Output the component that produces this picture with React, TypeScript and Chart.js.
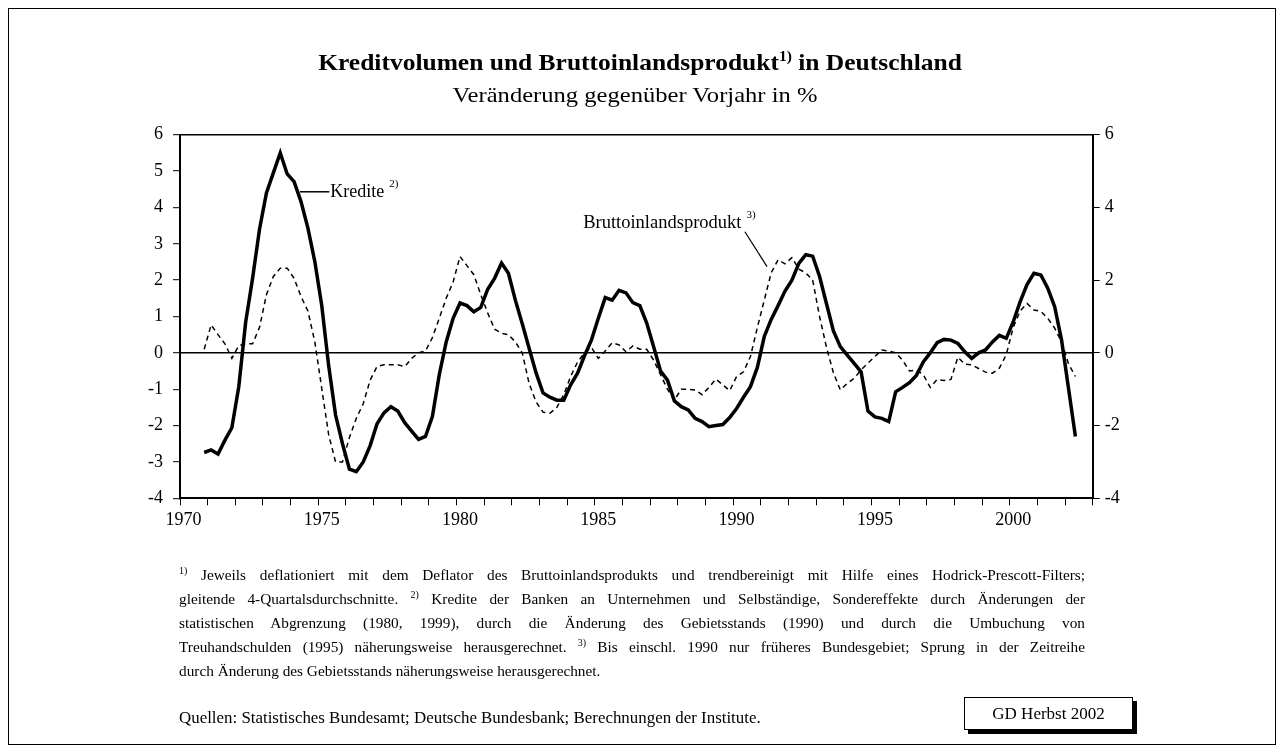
import React, { useEffect, useRef } from "react";
import { Chart, registerables } from "chart.js";

Chart.register(...registerables);

// ---------- data ----------
const FIRST_YEAR = 1970;
const LAST_YEAR = 2002; // axis runs to end of 2002
const FIRST_QUARTER_INDEX = 3; // data starts 1970 Q4

const yearTickLabels = ["1970", "1975", "1980", "1985", "1990", "1995", "2000"];
const rightAxisTicks = [-4, -2, 0, 2, 4, 6];

// Kredite (solid, thick), quarterly, 1970 Q4 .. 2002 Q2
const kredite = [
  -2.74, -2.67, -2.78, -2.4, -2.06, -0.93, 0.85, 2.05, 3.4, 4.4,
  4.95, 5.5, 4.92, 4.71, 4.16, 3.43, 2.51, 1.3, -0.35, -1.71,
  -2.5, -3.2, -3.27, -3.0, -2.55, -1.95, -1.65, -1.48, -1.6, -1.92,
  -2.15, -2.38, -2.3, -1.75, -0.6, 0.3, 0.95, 1.37, 1.3, 1.13,
  1.25, 1.75, 2.05, 2.47, 2.19, 1.45, 0.8, 0.12, -0.55, -1.1,
  -1.22, -1.3, -1.3, -0.88, -0.56, -0.08, 0.35, 0.95, 1.52, 1.45,
  1.72, 1.65, 1.38, 1.3, 0.82, 0.17, -0.5, -0.75, -1.32, -1.48,
  -1.57, -1.8, -1.89, -2.03, -2.0, -1.97, -1.78, -1.53, -1.22, -0.93,
  -0.4, 0.45, 0.92, 1.3, 1.7, 2.0, 2.46, 2.7, 2.66, 2.1,
  1.35, 0.6, 0.17, -0.06, -0.29, -0.52, -1.6, -1.76, -1.8, -1.89,
  -1.07, -0.95, -0.82, -0.62, -0.25, 0.0, 0.28, 0.37, 0.35, 0.26,
  0.03, -0.15, 0.0, 0.08, 0.3, 0.48, 0.4, 0.85, 1.4, 1.88,
  2.19, 2.14, 1.78, 1.27, 0.35, -0.97, -2.3,
];

// Bruttoinlandsprodukt (dashed), quarterly, 1970 Q4 .. 2002 Q2
const bip = [
  0.1, 0.77, 0.5, 0.25, -0.15, 0.2, 0.25, 0.25, 0.7, 1.6,
  2.1, 2.33, 2.33, 2.05, 1.55, 1.15, 0.3, -0.98, -2.25, -3.0,
  -3.0, -2.33, -1.8, -1.4, -0.75, -0.37, -0.33, -0.33, -0.33, -0.38,
  -0.15, 0.0, 0.05, 0.42, 0.95, 1.5, 1.95, 2.65, 2.4, 2.15,
  1.6, 1.1, 0.65, 0.54, 0.5, 0.3, 0.0, -0.85, -1.35, -1.63,
  -1.66, -1.5, -1.15, -0.65, -0.25, 0.0, 0.15, -0.15, 0.05, 0.28,
  0.22, 0.03, 0.19, 0.1, 0.1, -0.2, -0.6, -1.0, -1.3, -1.0,
  -1.0, -1.02, -1.15, -0.95, -0.72, -0.88, -1.04, -0.65, -0.52, -0.1,
  0.7, 1.45, 2.2, 2.56, 2.45, 2.62, 2.3, 2.2, 2.0, 1.0,
  0.15, -0.55, -1.02, -0.84, -0.7, -0.47, -0.28, -0.1, 0.08, 0.05,
  0.0, -0.2, -0.5, -0.47, -0.6, -0.95, -0.73, -0.76, -0.73, -0.12,
  -0.31, -0.33, -0.43, -0.53, -0.56, -0.42, -0.05, 0.7, 1.15, 1.36,
  1.18, 1.14, 0.95, 0.68, 0.3, -0.3, -0.65,
];

// category labels (quarters)
const quarters: string[] = kredite.map((_, k) => {
  const n = FIRST_QUARTER_INDEX + k;
  return `${FIRST_YEAR + Math.floor(n / 4)} Q${(n % 4) + 1}`;
});

// annotation anchors in data space (quarter index, value)
const kreditLabel = { text: "Kredite", sup: "2)", from: [17.35, 4.43], to: [21.6, 4.43] };
const bipLabel = { text: "Bruttoinlandsprodukt", sup: "3)", textEnd: [81.2, 3.57], from: [81.7, 3.33], to: [84.9, 2.37] };

const FONT = "'Liberation Serif', 'Times New Roman', Times, serif";
const TOTAL_Q = (LAST_YEAR - FIRST_YEAR + 1) * 4;

const quarterToX = (label: string) => {
  const [y, q] = label.split(" Q");
  return (Number(y) - FIRST_YEAR) * 4 + Number(q) - 1 + 0.5;
};

const annotationPlugin = {
  id: "annots",
  afterDatasetsDraw(chart: any) {
    const { ctx } = chart;
    const x = chart.scales.x;
    const y = chart.scales.y;
    ctx.save();
    ctx.strokeStyle = "#000";
    ctx.fillStyle = "#000";
    ctx.lineWidth = 1.5;
    // Kredite
    const k0x = x.getPixelForValue(kreditLabel.from[0]);
    const k0y = y.getPixelForValue(kreditLabel.from[1]);
    const k1x = x.getPixelForValue(kreditLabel.to[0]);
    ctx.beginPath();
    ctx.moveTo(k0x, k0y);
    ctx.lineTo(k1x, k0y);
    ctx.stroke();
    ctx.font = `18px ${FONT}`;
    ctx.textBaseline = "middle";
    ctx.textAlign = "left";
    ctx.fillText(kreditLabel.text, k1x + 1, k0y);
    const kw = ctx.measureText(kreditLabel.text).width;
    ctx.font = `11px ${FONT}`;
    ctx.fillText(kreditLabel.sup, k1x + kw + 6, k0y - 8);
    // BIP
    ctx.font = `18.5px ${FONT}`;
    ctx.textAlign = "right";
    const bx = x.getPixelForValue(bipLabel.textEnd[0]);
    const by = y.getPixelForValue(bipLabel.textEnd[1]);
    ctx.fillText(bipLabel.text, bx, by);
    ctx.font = `11px ${FONT}`;
    ctx.textAlign = "left";
    ctx.fillText(bipLabel.sup, bx + 5, by - 8);
    ctx.beginPath();
    ctx.moveTo(x.getPixelForValue(bipLabel.from[0]), y.getPixelForValue(bipLabel.from[1]));
    ctx.lineTo(x.getPixelForValue(bipLabel.to[0]), y.getPixelForValue(bipLabel.to[1]));
    ctx.lineWidth = 1.2;
    ctx.stroke();
    ctx.restore();
  },
};

function ChartCanvas() {
  const ref = useRef<HTMLCanvasElement>(null);
  useEffect(() => {
    if (!ref.current) return;
    const tickFont = { family: FONT, size: 18 };
    const chart = new Chart(ref.current, {
      type: "line",
      data: {
        datasets: [
          {
            label: "Kredite",
            data: quarters.map((q, k) => ({ x: quarterToX(q), y: kredite[k] })),
            borderColor: "#000",
            borderWidth: 3.5,
            pointRadius: 0,
            tension: 0,
            fill: false,
          },
          {
            label: "Bruttoinlandsprodukt",
            data: quarters.map((q, k) => ({ x: quarterToX(q), y: bip[k] })),
            borderColor: "#000",
            borderWidth: 1.5,
            borderDash: [5, 4],
            pointRadius: 0,
            tension: 0,
            fill: false,
          },
        ],
      },
      options: {
        animation: false,
        responsive: false,
        maintainAspectRatio: false,
        layout: { padding: { left: 132, right: 143.3, top: 126.7, bottom: 206.7 } },
        plugins: { legend: { display: false }, tooltip: { enabled: false }, title: { display: false } },
        scales: {
          x: {
            type: "linear",
            min: 0,
            max: TOTAL_Q,
            afterBuildTicks: (s: any) => {
              const t = [];
              for (let v = 0; v <= TOTAL_Q; v += 4) t.push({ value: v });
              s.ticks = t;
            },
            afterFit: (s: any) => {
              s.height = 40;
            },
            ticks: {
              autoSkip: false,
              maxRotation: 0,
              minRotation: 0,
              labelOffset: 3.46,
              padding: 4,
              color: "#000",
              font: tickFont,
              callback: (v: any) => {
                const yr = String(FIRST_YEAR + Number(v) / 4);
                return yearTickLabels.includes(yr) ? yr : "";
              },
            },
            grid: { drawOnChartArea: false, drawTicks: true, tickLength: 7, tickColor: "#000", tickWidth: 1 },
            border: { display: true, color: "#000", width: 2 },
          },
          y: {
            position: "left",
            min: -4,
            max: 6,
            afterFit: (s: any) => {
              s.width = 40;
            },
            ticks: { stepSize: 1, color: "#000", font: tickFont, padding: 10 },
            grid: {
              drawOnChartArea: true,
              drawTicks: true,
              tickLength: 7,
              tickColor: "#000",
              tickWidth: 1,
              color: (c: any) => (c.tick && (c.tick.value === 0 || c.tick.value === 6) ? "#000" : "rgba(0,0,0,0)"),
              lineWidth: 1.4,
            },
            border: { display: true, color: "#000", width: 2 },
          },
          y2: {
            position: "right",
            min: -4,
            max: 6,
            afterBuildTicks: (s: any) => {
              s.ticks = rightAxisTicks.map((v) => ({ value: v }));
            },
            afterFit: (s: any) => {
              s.width = 40;
            },
            ticks: { color: "#000", font: tickFont, padding: 5 },
            grid: { drawOnChartArea: false, drawTicks: true, tickLength: 7, tickColor: "#000", tickWidth: 1 },
            border: { display: true, color: "#000", width: 2 },
          },
        },
      },
      plugins: [annotationPlugin],
    } as any);
    return () => chart.destroy();
  }, []);
  return (
    <canvas
      ref={ref}
      width={1268}
      height={737}
      style={{ position: "absolute", left: 0, top: 0, width: 1268, height: 737 }}
    />
  );
}

const noteLine: React.CSSProperties = {
  textAlign: "justify",
  textAlignLast: "justify" as any,
  whiteSpace: "nowrap",
  height: 24,
  lineHeight: "24px",
};
const sup: React.CSSProperties = { fontSize: 10, verticalAlign: "6px", lineHeight: 0 };

export default function App() {
  return (
    <div
      style={{
        position: "relative",
        width: 1268,
        height: 737,
        fontFamily: FONT,
        color: "#000",
        background: "#fff",
      }}
    >
      <div
        style={{
          position: "absolute",
          left: 0,
          top: 0,
          width: 1268,
          height: 737,
          boxSizing: "border-box",
          border: "1px solid #000",
        }}
      />
      <ChartCanvas />
      <div
        style={{
          position: "absolute",
          left: 0,
          top: 40,
          width: 1264,
          textAlign: "center",
          fontWeight: "bold",
          fontSize: 23,
          lineHeight: "30px",
          transform: "scaleX(1.108)",
        }}
      >
        Kreditvolumen und Bruttoinlandsprodukt
        <span style={{ fontSize: 14, verticalAlign: "9px", lineHeight: 0 }}>1)</span> in Deutschland
      </div>
      <div
        style={{
          position: "absolute",
          left: 0,
          top: 73,
          width: 1254,
          textAlign: "center",
          fontSize: 21,
          lineHeight: "28px",
          transform: "scaleX(1.17)",
        }}
      >
        Veränderung gegenüber Vorjahr in %
      </div>
      <div style={{ position: "absolute", left: 171, top: 555, width: 906, fontSize: 15.3 }}>
        <div style={noteLine}>
          <span style={sup}>1)</span> Jeweils deflationiert mit dem Deflator des Bruttoinlandsprodukts und trendbereinigt mit Hilfe eines Hodrick-Prescott-Filters;
        </div>
        <div style={noteLine}>
          gleitende 4-Quartalsdurchschnitte. <span style={sup}>2)</span> Kredite der Banken an Unternehmen und Selbständige, Sondereffekte durch Änderungen der
        </div>
        <div style={noteLine}>
          statistischen Abgrenzung (1980, 1999), durch die Änderung des Gebietsstands (1990) und durch die Umbuchung von
        </div>
        <div style={noteLine}>
          Treuhandschulden (1995) näherungsweise herausgerechnet. <span style={sup}>3)</span> Bis einschl. 1990 nur früheres Bundesgebiet; Sprung in der Zeitreihe
        </div>
        <div style={{ ...noteLine, textAlign: "left", textAlignLast: "left" as any }}>
          durch Änderung des Gebietsstands näherungsweise herausgerechnet.
        </div>
      </div>
      <div style={{ position: "absolute", left: 171, top: 698, fontSize: 16.9, lineHeight: "24px" }}>
        Quellen: Statistisches Bundesamt; Deutsche Bundesbank; Berechnungen der Institute.
      </div>
      <div
        style={{
          position: "absolute",
          left: 956,
          top: 689,
          width: 169,
          height: 33,
          boxSizing: "border-box",
          border: "1px solid #000",
          boxShadow: "4px 4px 0 #000",
          background: "#fff",
          textAlign: "center",
          fontSize: 17,
          lineHeight: "31px",
        }}
      >
        GD Herbst 2002
      </div>
    </div>
  );
}
